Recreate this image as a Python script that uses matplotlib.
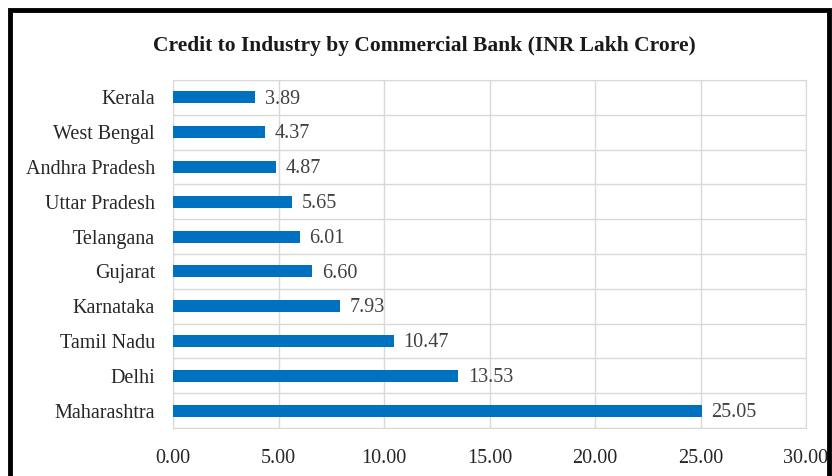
import matplotlib.pyplot as plt

states = ['Kerala', 'West Bengal', 'Andhra Pradesh', 'Uttar Pradesh', 'Telangana',
          'Gujarat', 'Karnataka', 'Tamil Nadu', 'Delhi', 'Maharashtra']
credit = [3.89, 4.37, 4.87, 5.65, 6.01, 6.60, 7.93, 10.47, 13.53, 25.05]
xticks = [0, 5, 10, 15, 20, 25, 30]

plt.rcParams['font.family'] = ['Liberation Serif', 'DejaVu Serif']

fig = plt.figure(figsize=(8.32, 4.76), dpi=100)
ax = fig.add_axes([173 / 832, 1 - 428 / 476, 633 / 832, 348 / 476])

ypos = list(range(len(states)))
ax.barh(ypos, credit, height=0.35, color='#0070C0', zorder=3)
for y, v in zip(ypos, credit):
    ax.text(v + 0.45, y + 0.05, f'{v:.2f}', va='center', ha='left', fontsize=14.5, color='#404040')

ax.set_xlim(0, 30)
ax.set_ylim(len(states) - 0.5, -0.5)
ax.set_xticks(xticks)
ax.set_xticklabels([f'{t:.2f}' for t in xticks])
ax.set_yticks(ypos)
ax.set_yticklabels(states)
ax.tick_params(axis='both', length=0, labelsize=14.5, colors='#262626')
ax.tick_params(axis='x', pad=15)
ax.tick_params(axis='y', pad=13)

# vertical value gridlines and horizontal category separators
ax.grid(axis='x', color='#d9d9d9', linewidth=1, zorder=0)
for b in range(len(states) + 1):
    ax.axhline(b - 0.5, color='#d9d9d9', linewidth=1, zorder=0)
for s in ax.spines.values():
    s.set_color('#d9d9d9')

fig.text(424 / 832, 1 - 46 / 476, 'Credit to Industry by Commercial Bank (INR Lakh Crore)',
         ha='center', va='center', fontsize=15.5, fontweight='bold', color='#1a1a1a')

# black frame around the chart
frame = plt.Rectangle((10 / 832, -0.05), (829 - 10) / 832, 1.05 - 10 / 476,
                      transform=fig.transFigure, fill=False, edgecolor='black', linewidth=3.5)
fig.patches.append(frame)

fig.savefig('out.png', dpi=100)
